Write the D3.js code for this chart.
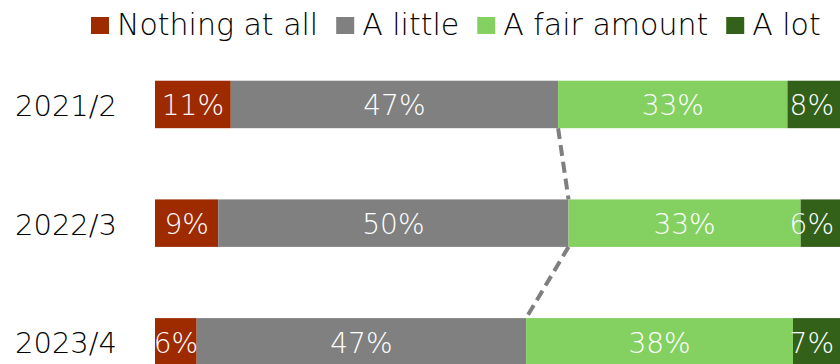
<!DOCTYPE html>
<html>
<head>
<meta charset="utf-8">
<script src="https://cdn.jsdelivr.net/npm/d3@7"></script>
<style>
  html, body { margin: 0; padding: 0; background: #fff; overflow: hidden; }
  svg { display: block; }
  text { font-family: "DejaVu Sans", sans-serif; font-weight: 200; }
</style>
</head>
<body>
<svg id="chart" width="840" height="364"></svg>
<script>
const categories = ["2021/2", "2022/3", "2023/4"];
const seriesNames = ["Nothing at all", "A little", "A fair amount", "A lot"];
const nothingAtAll = [10.9, 9.1, 6.0];
const aLittle = [47.1, 50.4, 47.4];
const aFairAmount = [33.0, 33.4, 38.4];
const aLot = [8.3, 6.4, 7.4];
const colors = ["#9e2a00", "#808080", "#84d162", "#336119"];

const W = 840, H = 364;
const svg = d3.select("#chart");

const rows = categories.map((c, i) => ({
  cat: c,
  vals: [nothingAtAll[i], aLittle[i], aFairAmount[i], aLot[i]]
}));

const x = d3.scaleLinear().domain([0, 100]).range([155, 850]);
const y = d3.scaleBand().domain(categories).range([45.1, 401.2])
  .paddingInner(0.6).paddingOuter(0.3);

// stacked data
const stackData = rows.map(r => {
  let acc = 0;
  return r.vals.map((v, k) => {
    const s = { cat: r.cat, k, v, x0: acc, x1: acc + v };
    acc += v;
    return s;
  });
});

const g = svg.append("g");
const rowG = g.selectAll("g.row").data(stackData).join("g").attr("class", "row");

rowG.selectAll("rect").data(d => d).join("rect")
  .attr("x", d => x(d.x0))
  .attr("y", d => y(d.cat))
  .attr("width", d => x(d.x1) - x(d.x0))
  .attr("height", y.bandwidth())
  .attr("fill", d => colors[d.k]);

// connector dashed lines between end of "A little" segments
const ends = stackData.map(r => ({ cat: r[1].cat, xv: r[1].x1 }));
const connPts = [];
for (let i = 0; i < ends.length - 1; i++) {
  connPts.push([[x(ends[i].xv), y(ends[i].cat) + y.bandwidth()],
                [x(ends[i + 1].xv), y(ends[i + 1].cat)]]);
}
g.selectAll("line.conn").data(connPts).join("line")
  .attr("class", "conn")
  .attr("x1", d => d[0][0]).attr("y1", d => d[0][1])
  .attr("x2", d => d[1][0]).attr("y2", d => d[1][1])
  .attr("stroke", "#7f7f7f")
  .attr("stroke-width", 4)
  .attr("stroke-dasharray", "11,6");

// value labels
const fmt = v => Math.round(v) + "%";
rowG.selectAll("text").data(d => d).join("text")
  .attr("y", d => y(d.cat) + y.bandwidth() / 2 + 11)
  .attr("text-anchor", "middle")
  .attr("fill", "#fff")
  .attr("font-size", 28)
  .text(d => fmt(d.v))
  .each(function (d) {
    const w = this.getComputedTextLength();
    let cx = (x(d.x0) + x(d.x1)) / 2;
    if (cx + w / 2 > 834) cx = 834 - w / 2;
    d3.select(this).attr("x", cx);
  });

// category labels
svg.selectAll("text.cat").data(categories).join("text")
  .attr("class", "cat")
  .attr("x", 15)
  .attr("y", d => y(d) + y.bandwidth() / 2 + 11.5)
  .attr("font-size", 29)
  .attr("fill", "#000")
  .text(d => d);

// legend
const leg = svg.append("g");
let lx = 91;
seriesNames.forEach((name, k) => {
  leg.append("rect").attr("x", lx).attr("y", 17).attr("width", 18).attr("height", 17)
    .attr("fill", colors[k]);
  const t = leg.append("text").attr("x", lx + 26).attr("y", 35)
    .attr("font-size", 30).attr("fill", "#000").text(name);
  lx += 26 + t.node().getComputedTextLength() + 18;
});
</script>
</body>
</html>
